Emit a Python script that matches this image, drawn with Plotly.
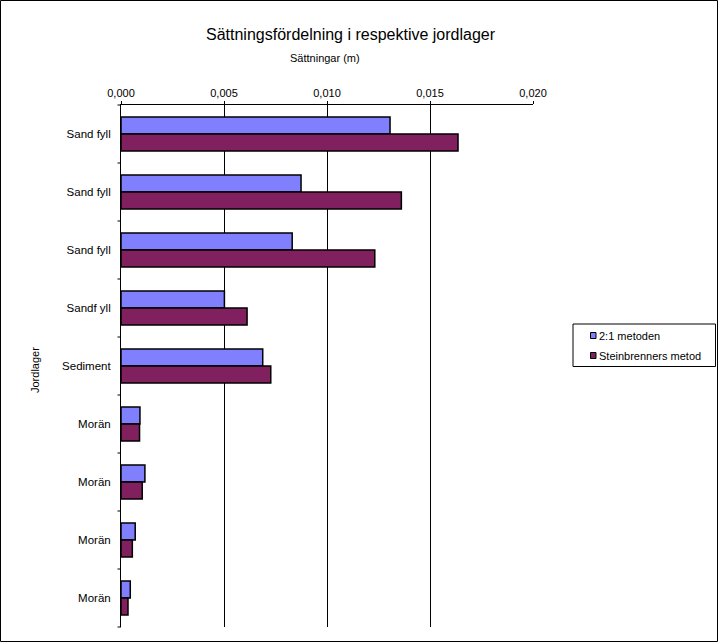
import plotly.graph_objects as go

categories = ["Sand fyll", "Sand fyll", "Sand fyll", "Sandf yll", "Sediment",
              "Morän", "Morän", "Morän", "Morän"]
metod_21 = [0.01306, 0.00874, 0.00831, 0.00502, 0.00688, 0.00092, 0.00116, 0.00069, 0.00045]
steinbrenner = [0.01636, 0.01361, 0.01232, 0.00612, 0.00727, 0.00090, 0.00103, 0.00055, 0.00034]
series_names = ["2:1 metoden", "Steinbrenners metod"]
series_colors = ["#8080FF", "#80205F"]
x_ticks = [0.0, 0.005, 0.010, 0.015, 0.020]

W, H = 719, 643
L, R, T, B = 121, 186, 105, 16
pw, ph = W - L - R, H - T - B
n = len(categories)

def px_x(x):  # pixel -> paper x
    return (x - L) / pw

def px_y(y):  # pixel -> paper y
    return 1 - (y - T) / ph

pos = list(range(n))
FONT = "Liberation Sans, Arial, sans-serif"

fig = go.Figure()
for name, vals, col in zip(series_names, [metod_21, steinbrenner], series_colors):
    fig.add_trace(go.Bar(y=pos, x=vals, orientation="h", name=name, showlegend=False,
                         hoverinfo="x+name",
                         marker=dict(color=col, line=dict(color="black", width=1.5))))

shapes = []
# y-axis tick marks at category boundaries
for b in range(n + 1):
    yb = 1 - b / n
    shapes.append(dict(type="line", xref="paper", yref="paper", x0=px_x(117.5), x1=0,
                       y0=yb, y1=yb, line=dict(color="black", width=1)))
# outer chart border
shapes.append(dict(type="rect", xref="paper", yref="paper",
                   x0=px_x(0.5), x1=px_x(W - 1.5), y0=px_y(H - 1.5), y1=px_y(0.5),
                   line=dict(color="black", width=1)))
# legend box
shapes.append(dict(type="rect", xref="paper", yref="paper",
                   x0=px_x(573), x1=px_x(715.5), y0=px_y(366.5), y1=px_y(324),
                   line=dict(color="black", width=1), fillcolor="white"))

annotations = [
    dict(text="Sättningsfördelning i respektive jordlager", xref="paper", yref="paper",
         x=px_x(351), y=px_y(35), showarrow=False,
         font=dict(size=16, color="black", family=FONT), xanchor="center", yanchor="middle"),
    dict(text="Sättningar (m)", xref="paper", yref="paper",
         x=px_x(325), y=px_y(58), showarrow=False,
         font=dict(size=11, color="black", family=FONT), xanchor="center", yanchor="middle"),
    dict(text="Jordlager", xref="paper", yref="paper", textangle=-90,
         x=px_x(35), y=px_y(370), showarrow=False,
         font=dict(size=11, color="black", family=FONT), xanchor="center", yanchor="middle"),
]

legend_y = [335.5, 355.5]
for name, col, ly in zip(series_names, series_colors, legend_y):
    shapes.append(dict(type="rect", xref="paper", yref="paper",
                       x0=px_x(590.5), x1=px_x(596), y0=px_y(ly + 3), y1=px_y(ly - 3),
                       line=dict(color="black", width=1), fillcolor=col))
    annotations.append(dict(text=name, xref="paper", yref="paper", x=px_x(596.5), y=px_y(ly),
                            showarrow=False, xanchor="left", yanchor="middle",
                            font=dict(size=11, color="black", family=FONT)))

fig.update_layout(
    width=W, height=H,
    margin=dict(l=L, r=R, t=T, b=B, autoexpand=False),
    paper_bgcolor="white", plot_bgcolor="white",
    barmode="group", bargap=0.414, bargroupgap=0,
    separators=", ",
    showlegend=False,
    font=dict(family=FONT, size=11, color="black"),
    shapes=shapes, annotations=annotations,
    xaxis=dict(side="top", range=[0, 0.020], tickvals=x_ticks, tickformat=".3f",
               showgrid=True, gridcolor="black", gridwidth=1, zeroline=False,
               showline=True, linecolor="black", linewidth=1,
               ticks="outside", ticklen=3, tickcolor="black",
               tickfont=dict(size=11, family=FONT, color="black")),
    yaxis=dict(range=[n - 0.5, -0.5], tickvals=pos, ticktext=categories,
               showgrid=False, zeroline=False, showline=True, linecolor="black",
               linewidth=1, ticks="", ticklabelstandoff=7,
               tickfont=dict(size=11.5, family=FONT, color="black")),
)

fig.write_html("out.html", config={"displayModeBar": False},
               post_script="document.body.style.margin='0px';")
